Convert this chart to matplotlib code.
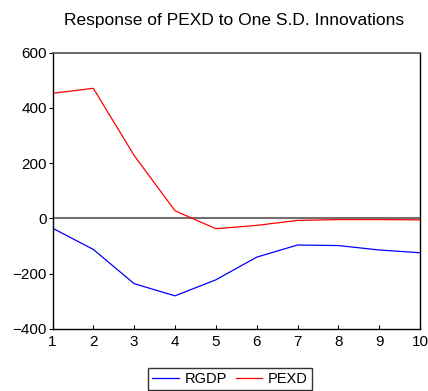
import matplotlib
matplotlib.use("Agg")
import matplotlib.pyplot as plt

periods = [1, 2, 3, 4, 5, 6, 7, 8, 9, 10]
rgdp = [-35, -112, -236, -280, -222, -140, -96, -98, -114, -124]
pexd = [453, 471, 228, 28, -37, -25, -7, -4, -4, -5]
yticks = [-400, -200, 0, 200, 400, 600]

plt.rcParams['font.family'] = ['Liberation Sans', 'DejaVu Sans']

fig = plt.figure(figsize=(4.28, 3.91), dpi=100)
ax = fig.add_axes([52.5/428, 1-329/391, (420-52.5)/428, (329-52.7)/391])

ax.axhline(0, color='#707070', lw=1.5, zorder=1)
l1, = ax.plot(periods, rgdp, color='#0000ff', lw=0.9, label='RGDP', zorder=2)
l2, = ax.plot(periods, pexd, color='#ff0000', lw=0.9, label='PEXD', zorder=2)

ax.set_xlim(1, 10)
ax.set_ylim(-400, 600)
ax.set_xticks(periods)
ax.set_yticks(yticks)
ax.tick_params(axis='both', labelsize=11, length=3, width=0.8, colors='black')
ax.tick_params(axis='x', direction='in', pad=4)
ax.tick_params(axis='y', direction='out', pad=1)
for s in ['left', 'bottom', 'right']:
    ax.spines[s].set_color('black')
    ax.spines[s].set_linewidth(1.0)
ax.spines['top'].set_color('#505050')
ax.spines['top'].set_linewidth(1.2)

fig.text(234/428, 1-20/391, 'Response of PEXD to One S.D. Innovations',
         ha='center', va='center', fontsize=12.5)

leg = fig.legend(handles=[l1, l2], loc='center', bbox_to_anchor=(230/428, 1-379/391),
                 ncol=2, frameon=True, fancybox=False, edgecolor='black', fontsize=10.5,
                 handlelength=1.8, handletextpad=0.4, columnspacing=0.6,
                 borderpad=0.3, borderaxespad=0)
leg.get_frame().set_linewidth(1.0)

fig.savefig('out.png', dpi=100)
